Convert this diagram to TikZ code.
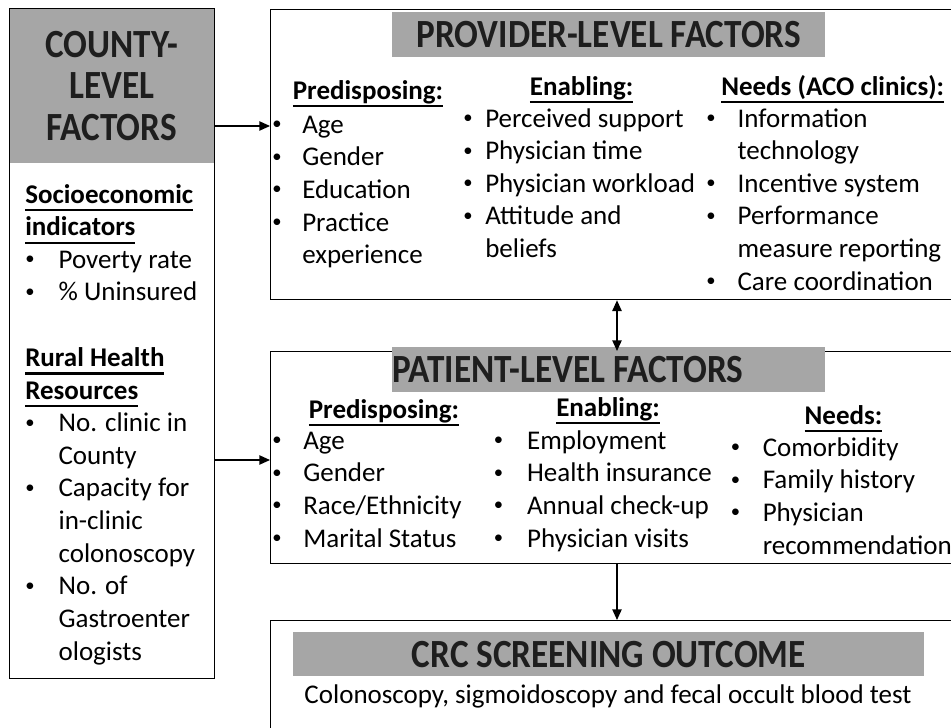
\documentclass[tikz,border=0pt]{standalone}
\usepackage{fontspec}
\usepackage{graphicx}
\setmainfont{Carlito}
\usetikzlibrary{arrows.meta}
\definecolor{titlegray}{HTML}{A6A6A6}
\definecolor{ink}{HTML}{1E1E1E}
\newcommand\hul[1]{\setbox0\hbox{\textbf{#1}}\rlap{\vrule height -4.6pt depth 6.2pt width \wd0}\box0}
\newcommand\bu{\raisebox{2.6pt}{\fontsize{14}{14}\selectfont •}}
\newcommand\blist[2]{\begin{tabular}[t]{@{}p{#1}@{}l@{}}#2\end{tabular}}
\newcommand\ttl[1]{\scalebox{0.88}[1]{#1}}
\tikzset{
  body/.style={font=\fontsize{20.25}{24.5}\selectfont, inner sep=0pt, anchor=base west, text=black},
  hd/.style={body, anchor=base},
  frame/.style={draw=black, line width=1pt, fill=none, inner sep=0pt, anchor=north west},
  graybox/.style={fill=titlegray, draw=none, inner sep=0pt, anchor=north west, align=center,
    font=\fontsize{30}{31.3}\selectfont\bfseries, text=ink},
  arr/.style={line width=1pt, -{Triangle[length=8pt,width=7pt]}},
  darr/.style={line width=1pt, {Triangle[length=8pt,width=7pt]}-{Triangle[length=8pt,width=7pt]}}
}
\begin{document}
\begin{tikzpicture}[x=0.75pt,y=-0.75pt]
\useasboundingbox (0,0) rectangle (951,728);
\clip (0,0) rectangle (951,728);

% ---------- County ----------
\node[graybox, minimum width=153.75pt, minimum height=116.25pt] (countyhead) at (9,8) {\ttl{COUNTY-}\\\ttl{LEVEL}\\\ttl{FACTORS}};
\node[frame, minimum width=153.75pt, minimum height=502.5pt] (county) at (9,8) {};
\node[body] (countylist) at (25,203) {\blist{25pt}{%
\multicolumn{2}{@{}l@{}}{\hul{Socioeconomic}}\\
\multicolumn{2}{@{}l@{}}{\hul{indicators}}\\
\bu&Poverty rate\\
\bu&\% Uninsured\\
&\\
\multicolumn{2}{@{}l@{}}{\hul{Rural Health}}\\
\multicolumn{2}{@{}l@{}}{\hul{Resources}}\\
\bu&No. clinic in\\
&County\\
\bu&Capacity for\\
&in-clinic\\
&colonoscopy\\
\bu&No. of\\
&Gastroenter\\
&ologists}};

% ---------- Provider ----------
\node[frame, minimum width=512.25pt, minimum height=217.5pt] (prov) at (270,9) {};
\node[graybox, minimum width=324.75pt, minimum height=33.75pt] (provhead) at (392,12) {\ttl{PROVIDER-LEVEL FACTORS}};
\node[hd] (provpredh) at (368,99) {\hul{Predisposing:}};
\node[hd] (provenah) at (581.6,95) {\hul{Enabling:}};
\node[hd] (provneedh) at (832.7,95) {\hul{Needs (ACO clinics):}};
\node[body] (provpred) at (272,133) {\blist{22.5pt}{\bu&Age\\\bu&Gender\\\bu&Education\\\bu&Practice\\&experience}};
\node[body] (provena) at (463,127) {\blist{16.5pt}{\bu&Perceived support\\\bu&Physician time\\\bu&Physician workload\\\bu&Attitude and\\&beliefs}};
\node[body] (provneed) at (706,127) {\blist{23.5pt}{\bu&Information\\&technology\\\bu&Incentive system\\\bu&Performance\\&measure reporting\\\bu&Care coordination}};

% ---------- Patient ----------
\node[frame, minimum width=512.25pt, minimum height=159pt] (pat) at (270,351) {};
\node[graybox, minimum width=324.75pt, minimum height=33.75pt] (pathead) at (392,347) {};
\node[font=\fontsize{30}{31.3}\selectfont\bfseries, text=ink, inner sep=0pt, anchor=west] (pattitle) at (392,370) {\ttl{PATIENT-LEVEL FACTORS}};
\node[hd] (patpredh) at (384,418) {\hul{Predisposing:}};
\node[hd] (patenah) at (608,416) {\hul{Enabling:}};
\node[hd] (patneedh) at (843.5,424) {\hul{Needs:}};
\node[body] (patpred) at (272,449) {\blist{23.25pt}{\bu&Age\\\bu&Gender\\\bu&Race/Ethnicity\\\bu&Marital Status}};
\node[body] (patena) at (493.5,449) {\blist{25pt}{\bu&Employment\\\bu&Health insurance\\\bu&Annual check-up\\\bu&Physician visits}};
\node[body] (patneed) at (730.5,456) {\blist{24pt}{\bu&Comorbidity\\\bu&Family history\\\bu&Physician\\&recommendation}};

% ---------- Outcome ----------
\node[frame, minimum width=512.25pt, minimum height=90pt] (out) at (270,620) {};
\node[graybox, minimum width=473.25pt, minimum height=33pt] (outhead) at (293,632) {\ttl{CRC SCREENING OUTCOME}};
\node[hd] (outsub) at (608,703) {Colonoscopy, sigmoidoscopy and fecal occult blood test};

% ---------- Connectors ----------
\coordinate (ya) at (0,126);
\coordinate (yb) at (0,460);
\coordinate (xm) at (617,0);
\draw[arr] (county.east |- ya) -- (prov.west |- ya);
\draw[arr] (county.east |- yb) -- (pat.west |- yb);
\draw[darr] (prov.south -| xm) -- (pat.north -| xm);
\draw[arr] (pat.south -| xm) -- (out.north -| xm);
\end{tikzpicture}
\end{document}
